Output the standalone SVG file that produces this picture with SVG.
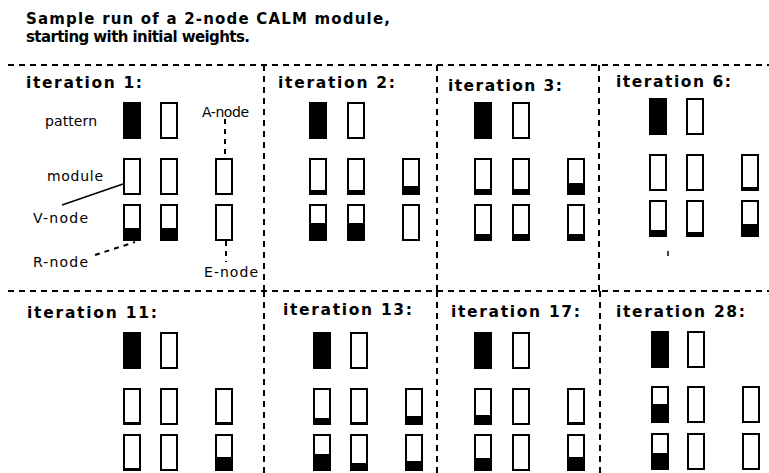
<svg xmlns="http://www.w3.org/2000/svg" xmlns:xlink="http://www.w3.org/1999/xlink" width="769" height="473" viewBox="0 0 769 473">
  <style>
    .title { font-family: "DejaVu Sans", "Liberation Sans", sans-serif; font-weight: bold; font-size: 15px; fill: #000; }
    .iter  { font-family: "DejaVu Sans", "Liberation Sans", sans-serif; font-weight: bold; font-size: 15.5px; fill: #000; }
    .lbl   { font-family: "DejaVu Sans", "Liberation Sans", sans-serif; font-size: 14px; fill: #000; }
    .rule  { stroke: #000; stroke-width: 2; stroke-dasharray: 6 5; fill: none; }
    .lead  { stroke: #000; stroke-width: 2; stroke-dasharray: 5 5; fill: none; }
    .solid { stroke: #000; stroke-width: 1.5; fill: none; }
    .on    { fill: #000; }
  </style>
  <defs>
    <!-- empty unit: 18 x 37 outer box, 2px border -->
    <rect id="cell" x="1" y="1" width="16" height="35" fill="#fff" stroke="#000" stroke-width="2"/>
    <!-- fully active unit -->
    <rect id="full" x="0" y="0" width="18" height="37" fill="#000"/>
  </defs>

  <rect width="769" height="473" fill="#fff"/>

  <!-- heading -->
  <g id="heading">
    <text class="title" x="26" y="24" textLength="364">Sample run of a 2-node CALM module,</text>
    <text class="title" x="26" y="42" textLength="224">starting with initial weights.</text>
  </g>

  <!-- panel dividers -->
  <g id="dividers">
    <line class="rule" x1="8" y1="65" x2="769" y2="65"/>
    <line class="rule" x1="8" y1="291" x2="769" y2="291"/>
    <line class="rule" x1="264" y1="65" x2="264" y2="291"/>
    <line class="rule" x1="437" y1="65" x2="437" y2="291"/>
    <line class="rule" x1="599" y1="65" x2="599" y2="291"/>
    <line class="rule" x1="264" y1="291" x2="264" y2="473"/>
    <line class="rule" x1="437" y1="291" x2="437" y2="473"/>
    <line class="rule" x1="600" y1="291" x2="600" y2="473"/>
  </g>

  <!-- iteration 1 -->
  <g id="iter1">
    <text class="iter" x="26" y="88" textLength="116">iteration 1:</text>
    <text class="lbl" x="45" y="126" textLength="52">pattern</text>
    <text class="lbl" x="202" y="117" textLength="47">A-node</text>
    <text class="lbl" x="47" y="181" textLength="56">module</text>
    <text class="lbl" x="33" y="223" textLength="55">V-node</text>
    <text class="lbl" x="33" y="267" textLength="55">R-node</text>
    <text class="lbl" x="204" y="277" textLength="54">E-node</text>
    <use href="#full" x="123" y="102"/>
    <use href="#cell" x="160" y="102"/>
    <use href="#cell" x="123" y="158"/>
    <use href="#cell" x="160" y="158"/>
    <use href="#cell" x="215" y="158"/>
    <use href="#cell" x="123" y="204"/>
    <use href="#cell" x="160" y="204"/>
    <use href="#cell" x="215" y="204"/>
    <rect class="on" x="123" y="228" width="18" height="13"/>
    <rect class="on" x="160" y="228" width="18" height="13"/>
  </g>

  <!-- iteration 2 -->
  <g id="iter2">
    <text class="iter" x="278" y="88" textLength="117">iteration 2:</text>
    <use href="#full" x="309" y="102"/>
    <use href="#cell" x="347" y="102"/>
    <use href="#cell" x="309" y="158"/>
    <use href="#cell" x="347" y="158"/>
    <use href="#cell" x="402" y="158"/>
    <use href="#cell" x="309" y="204"/>
    <use href="#cell" x="347" y="204"/>
    <use href="#cell" x="402" y="204"/>
    <rect class="on" x="309" y="190" width="18" height="5"/>
    <rect class="on" x="347" y="190" width="18" height="5"/>
    <rect class="on" x="402" y="186" width="18" height="9"/>
    <rect class="on" x="309" y="223" width="18" height="18"/>
    <rect class="on" x="347" y="223" width="18" height="18"/>
  </g>

  <!-- iteration 3 -->
  <g id="iter3">
    <text class="iter" x="448" y="91" textLength="114">iteration 3:</text>
    <use href="#full" x="474" y="102"/>
    <use href="#cell" x="512" y="102"/>
    <use href="#cell" x="474" y="158"/>
    <use href="#cell" x="512" y="158"/>
    <use href="#cell" x="567" y="158"/>
    <use href="#cell" x="474" y="204"/>
    <use href="#cell" x="512" y="204"/>
    <use href="#cell" x="567" y="204"/>
    <rect class="on" x="474" y="189" width="18" height="6"/>
    <rect class="on" x="512" y="189" width="18" height="6"/>
    <rect class="on" x="567" y="183" width="18" height="12"/>
    <rect class="on" x="474" y="234" width="18" height="7"/>
    <rect class="on" x="512" y="234" width="18" height="7"/>
    <rect class="on" x="567" y="234" width="18" height="7"/>
  </g>

  <!-- iteration 6 -->
  <g id="iter6">
    <text class="iter" x="616" y="87" textLength="115">iteration 6:</text>
    <use href="#full" x="649" y="98"/>
    <use href="#cell" x="686" y="98"/>
    <use href="#cell" x="649" y="154"/>
    <use href="#cell" x="686" y="154"/>
    <use href="#cell" x="741" y="154"/>
    <use href="#cell" x="649" y="200"/>
    <use href="#cell" x="686" y="200"/>
    <use href="#cell" x="741" y="200"/>
    <rect class="on" x="741" y="187" width="18" height="4"/>
    <rect class="on" x="649" y="230" width="18" height="7"/>
    <rect class="on" x="686" y="232" width="18" height="5"/>
    <rect class="on" x="741" y="224" width="18" height="13"/>
    <line class="solid" x1="668" y1="251" x2="668" y2="256" stroke-width="2"/>
  </g>

  <!-- iteration 11 -->
  <g id="iter11">
    <text class="iter" x="27" y="318" textLength="130">iteration 11:</text>
    <use href="#full" x="123" y="332"/>
    <use href="#cell" x="160" y="332"/>
    <use href="#cell" x="123" y="388"/>
    <use href="#cell" x="160" y="388"/>
    <use href="#cell" x="215" y="388"/>
    <use href="#cell" x="123" y="434"/>
    <use href="#cell" x="160" y="434"/>
    <use href="#cell" x="215" y="434"/>
    <rect class="on" x="123" y="422" width="18" height="3"/>
    <rect class="on" x="215" y="422" width="18" height="3"/>
    <rect class="on" x="123" y="468" width="18" height="3"/>
    <rect class="on" x="160" y="469" width="18" height="2"/>
    <rect class="on" x="215" y="457" width="18" height="14"/>
  </g>

  <!-- iteration 13 -->
  <g id="iter13">
    <text class="iter" x="283" y="315" textLength="129">iteration 13:</text>
    <use href="#full" x="313" y="332"/>
    <use href="#cell" x="350" y="332"/>
    <use href="#cell" x="313" y="388"/>
    <use href="#cell" x="350" y="388"/>
    <use href="#cell" x="405" y="388"/>
    <use href="#cell" x="313" y="434"/>
    <use href="#cell" x="350" y="434"/>
    <use href="#cell" x="405" y="434"/>
    <rect class="on" x="313" y="418" width="18" height="7"/>
    <rect class="on" x="350" y="422" width="18" height="3"/>
    <rect class="on" x="405" y="416" width="18" height="9"/>
    <rect class="on" x="313" y="454" width="18" height="17"/>
    <rect class="on" x="350" y="463" width="18" height="8"/>
    <rect class="on" x="405" y="461" width="18" height="10"/>
  </g>

  <!-- iteration 17 -->
  <g id="iter17">
    <text class="iter" x="451" y="317" textLength="129">iteration 17:</text>
    <use href="#full" x="474" y="332"/>
    <use href="#cell" x="512" y="332"/>
    <use href="#cell" x="474" y="388"/>
    <use href="#cell" x="512" y="388"/>
    <use href="#cell" x="567" y="388"/>
    <use href="#cell" x="474" y="434"/>
    <use href="#cell" x="512" y="434"/>
    <use href="#cell" x="567" y="434"/>
    <rect class="on" x="474" y="415" width="18" height="10"/>
    <rect class="on" x="567" y="422" width="18" height="3"/>
    <rect class="on" x="474" y="458" width="18" height="13"/>
    <rect class="on" x="567" y="457" width="18" height="14"/>
  </g>

  <!-- iteration 28 -->
  <g id="iter28">
    <text class="iter" x="616" y="317" textLength="129">iteration 28:</text>
    <use href="#full" x="651" y="331"/>
    <use href="#cell" x="687" y="331"/>
    <use href="#cell" x="651" y="386"/>
    <use href="#cell" x="687" y="386"/>
    <use href="#cell" x="742" y="386"/>
    <use href="#cell" x="651" y="433"/>
    <use href="#cell" x="687" y="433"/>
    <use href="#cell" x="742" y="433"/>
    <rect class="on" x="651" y="404" width="18" height="19"/>
    <rect class="on" x="651" y="453" width="18" height="17"/>
  </g>

  <!-- leader lines from the labels to their units -->
  <g id="connectors">
    <line class="solid" x1="123" y1="184" x2="62" y2="205"/>
    <line class="lead" x1="225" y1="119" x2="225" y2="158"/>
    <line class="lead" x1="95" y1="255" x2="135" y2="242"/>
    <line class="lead" x1="226" y1="241" x2="226" y2="262"/>
  </g>
</svg>
